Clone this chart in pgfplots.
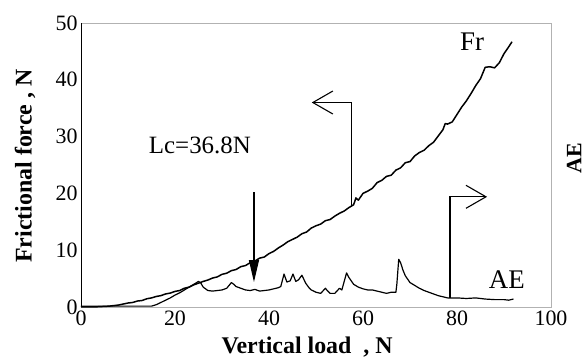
\documentclass[border=0pt]{standalone}
\usepackage{fontspec}
\setmainfont{Liberation Serif}
\usepackage{pgfplots}
\pgfplotsset{compat=1.18}
\usetikzlibrary{arrows.meta,calc}

\pgfplotstableread{
x y
0 0
3 0.02
6 0.15
8 0.35
10 0.7
11 0.8
12 1.05
13 1.15
14 1.45
15 1.6
16 1.85
17 2.0
18 2.3
19 2.45
20 2.75
21 2.9
22 3.3
23 3.5
24 3.9
25 4.2
26 4.5
27 4.75
28 5.1
29 5.3
30 5.75
31 5.95
32 6.4
33 6.6
34 7.1
35 7.3
36 7.8
37 8.1
38 8.6
39 8.8
40 9.4
41 9.8
42 10.4
43 10.9
44 11.5
45 11.9
46 12.3
47 12.9
48 13.2
49 13.9
50 14.3
51 14.6
52 15.2
53 15.4
54 16.0
55 16.5
56 16.9
57 17.5
58 18.0
58.5 19.2
59 18.8
60 20.0
61 20.4
62 20.9
63 21.9
64 22.3
65 23.0
66 23.2
67 24.1
68 24.5
69 25.4
70 25.6
71 26.6
72 27.2
73 27.6
74 28.4
75 29.0
76 30.1
77 31.2
77.5 32.3
78 32.2
79 32.6
80 33.9
81 35.2
82 36.3
83 37.6
84 39.0
85 40.2
86 42.2
87 42.3
88 42.1
89 43.0
90 44.6
91 45.8
91.7 46.7
}\frdata

\pgfplotstableread{
x y
0 0.15
15 0.15
16 0.4
17 0.8
18 1.2
19 1.6
20 2.1
21 2.5
22 3.0
23 3.5
24 4.0
25 4.5
25.5 4.2
26 3.5
27 2.9
28 2.8
29 2.9
30 3.0
31 3.3
32 4.3
32.5 4.0
33 3.6
34 3.3
35 3.0
36 2.9
37 3.1
38 2.8
39 2.9
40 3.0
41 3.2
42 3.4
42.5 3.6
43.2 5.8
43.8 4.4
44.5 4.6
45.1 5.8
45.7 4.5
46.3 4.8
47 5.6
47.8 4.2
48.5 3.4
49 3.0
50 2.6
51 2.4
52 3.3
52.5 2.8
53 2.4
54 2.4
55 3.3
55.5 3.0
56.5 6.0
57 5.2
58 4.0
59 3.5
60 3.2
61 3.0
62 3.0
63 2.8
64 2.6
65 2.4
66 2.6
67 2.6
67.2 4.0
67.6 8.4
68 7.8
68.5 6.5
69 5.5
70 4.3
71 3.8
72 3.3
73 2.9
74 2.6
75 2.3
76 2.0
77 1.8
78 1.6
80 1.6
82 1.5
84 1.6
86 1.4
88 1.3
90 1.3
91 1.2
92 1.4
}\aedata

\begin{document}
\begin{tikzpicture}
\begin{axis}[
  scale only axis, width=470bp, height=284bp,
  xmin=0, xmax=100, ymin=0, ymax=50,
  xtick={0,20,...,100}, ytick={0,10,...,50},
  major tick length=0pt,
  tick label style={font=\fontsize{22}{26}\selectfont},
  /pgf/number format/assume math mode=true,
  axis line style={gray!60, line width=0.6pt},
  xlabel={\bfseries Vertical load\ \ , N},
  ylabel={\bfseries Frictional force , N},
  label style={font=\fontsize{24}{28}\selectfont},
  xlabel style={at={(axis description cs:0.481,-0.141)}, anchor=center},
  ylabel style={at={(axis description cs:-0.119,0.496)}, anchor=center},
  clip=false,
]
\coordinate (bl) at (rel axis cs:0,0);
\coordinate (tr) at (rel axis cs:1,1);
\draw[black, line width=0.6pt] (rel axis cs:0,0) -- (rel axis cs:0,1);
\addplot[black, line width=1.5pt, line join=round] table {\frdata};
\addplot[black, line width=1.2pt, line join=round] table {\aedata};
\draw[black, line width=1.1pt, -{Straight Barb[length=20bp,width=23bp,line width=1.1pt]}]
  (axis cs:57.5,17.8) -- (axis cs:57.5,36) -- (axis cs:49.1,36);
\draw[black, line width=1.1pt, -{Straight Barb[length=20bp,width=23bp,line width=1.1pt]}]
  (axis cs:78.5,1.6) -- (axis cs:78.5,19.4) -- (axis cs:86.4,19.4);
\draw[black, line width=1.1pt, -{Triangle[length=22bp,width=10bp]}]
  (axis cs:36.8,20.2) -- (axis cs:36.8,4.4);
\node[font=\fontsize{25}{30}\selectfont] at (axis cs:25.3,28.5) {Lc=36.8N};
\node[font=\fontsize{27}{32}\selectfont] at (axis cs:83.2,46.7) {Fr};
\node[font=\fontsize{27}{32}\selectfont] at (axis cs:90.6,4.9) {AE};
\node[font=\bfseries\fontsize{22}{26}\selectfont, rotate=90] at (rel axis cs:1.049,0.525) {AE};
\end{axis}
\pgfresetboundingbox
\path[use as bounding box] ($(bl)+(-81bp,-54bp)$) rectangle ($(tr)+(35bp,23bp)$);
\end{tikzpicture}
\end{document}
